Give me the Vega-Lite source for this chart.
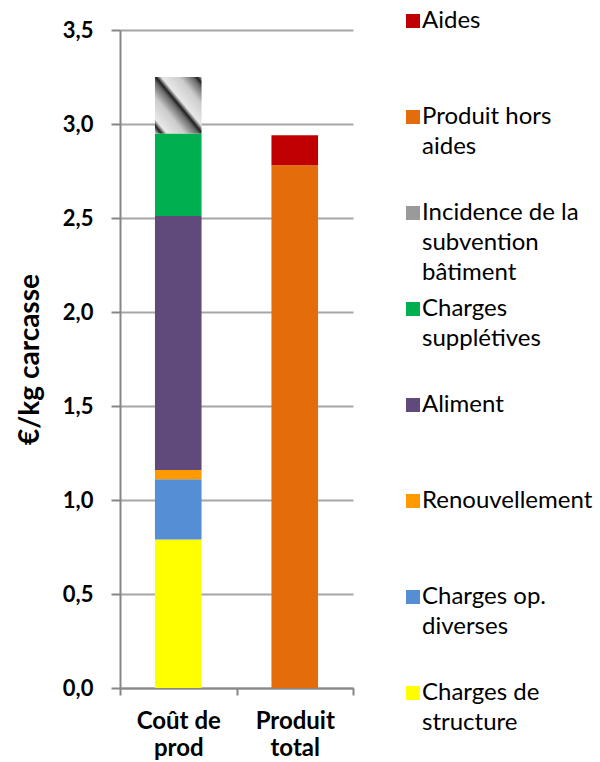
{
  "$schema": "https://vega.github.io/schema/vega-lite/v6.json",
  "autosize": "none",
  "padding": {"left": 120, "top": 30, "right": 247, "bottom": 74},
  "width": 233,
  "height": 658,
  "background": "white",
  "config": {
    "view": {"stroke": null},
    "font": "Lato",
    "style": {"guide-label": {"lineHeight": 30}}
  },
  "data": {
    "values": [
      {"categorie": "Coût de prod", "serie": "Charges de structure", "valeur": 0.79, "ordre": 1},
      {"categorie": "Coût de prod", "serie": "Charges op. diverses", "valeur": 0.32, "ordre": 2},
      {"categorie": "Coût de prod", "serie": "Renouvellement", "valeur": 0.05, "ordre": 3},
      {"categorie": "Coût de prod", "serie": "Aliment", "valeur": 1.35, "ordre": 4},
      {"categorie": "Coût de prod", "serie": "Charges supplétives", "valeur": 0.44, "ordre": 5},
      {"categorie": "Coût de prod", "serie": "Incidence de la subvention bâtiment", "valeur": 0.30, "ordre": 6},
      {"categorie": "Produit total", "serie": "Produit hors aides", "valeur": 2.78, "ordre": 7},
      {"categorie": "Produit total", "serie": "Aides", "valeur": 0.16, "ordre": 8}
    ]
  },
  "mark": {"type": "bar", "strokeWidth": 0, "width": {"band": 0.4}},
  "encoding": {
    "x": {
      "field": "categorie",
      "type": "nominal",
      "sort": ["Coût de prod", "Produit total"],
      "scale": {"paddingInner": 0, "paddingOuter": 0},
      "axis": {
        "title": null,
        "labelAngle": 0,
        "labelExpr": "datum.label == 'Coût de prod' ? ['Coût de', 'prod'] : datum.label == 'Produit total' ? ['Produit', 'total'] : ''",
        "labelFont": "Lato",
        "labelFontSize": 24,
        "labelFontWeight": "bold",
        "labelColor": "#000000",
        "labelLineHeight": 27,
        "labelPadding": 14,
        "labelBaseline": "top",
        "tickBand": "extent",
        "tickSize": 7,
        "tickWidth": 2,
        "tickColor": "#868686",
        "domainColor": "#868686",
        "domainWidth": 2
      }
    },
    "y": {
      "field": "valeur",
      "type": "quantitative",
      "stack": "zero",
      "scale": {"domain": [0, 3.5], "nice": false},
      "axis": {
        "title": "€/kg carcasse",
        "titleFont": "Lato",
        "titleFontSize": 28,
        "titleFontWeight": "bold",
        "titleColor": "#000000",
        "titlePadding": 18,
        "values": [0, 0.5, 1, 1.5, 2, 2.5, 3, 3.5],
        "labelExpr": "replace(format(datum.value, '.1f'), '.', ',')",
        "labelFont": "Lato",
        "labelFontSize": 22,
        "labelFontWeight": "bold",
        "labelColor": "#000000",
        "labelPadding": 18,
        "tickSize": 9,
        "tickWidth": 2,
        "tickColor": "#868686",
        "domainColor": "#868686",
        "domainWidth": 2,
        "grid": true,
        "gridColor": "#a6a6a6",
        "gridWidth": 2
      }
    },
    "color": {
      "condition": {
        "test": "datum.serie == 'Incidence de la subvention bâtiment'",
        "value": {"gradient": "linear", "x1": 0, "y1": 1, "x2": 1, "y2": 0, "stops": [
          {"offset": 0, "color": "#d8d8d8"},
          {"offset": 0.07, "color": "#202020"},
          {"offset": 0.13, "color": "#e8e8e8"},
          {"offset": 0.32, "color": "#cccccc"},
          {"offset": 0.46, "color": "#6a6a6a"},
          {"offset": 0.51, "color": "#202020"},
          {"offset": 0.57, "color": "#e8e8e8"},
          {"offset": 0.76, "color": "#cccccc"},
          {"offset": 0.9, "color": "#6a6a6a"},
          {"offset": 0.95, "color": "#202020"},
          {"offset": 1, "color": "#b0b0b0"}
        ]}
      },
      "field": "serie",
      "type": "nominal",
      "scale": {
        "domain": ["Aides", "Produit hors aides", "Incidence de la subvention bâtiment", "Charges supplétives", "Aliment", "Renouvellement", "Charges op. diverses", "Charges de structure"],
        "range": ["#c00000", "#e46c0a", "#9a9a9a", "#00b050", "#604a7b", "#ff9900", "#558ed5", "#ffff00"]
      },
      "legend": {
        "title": null,
        "orient": "none",
        "legendX": 281,
        "legendY": -21,
        "padding": 0,
        "rowPadding": 12,
        "symbolType": "square",
        "symbolSize": 196,
        "symbolStrokeWidth": 0,
        "labelFont": "Lato",
        "labelFontSize": 24,
        "labelColor": "#000000",
        "labelLimit": 300,
        "labelOffset": -3,
        "labelBaseline": "middle",
        "labelExpr": "{'Aides': ['Aides', ' ', ' '], 'Produit hors aides': ['Produit hors', 'aides', ' '], 'Incidence de la subvention bâtiment': ['Incidence de la', 'subvention', 'bâtiment'], 'Charges supplétives': ['Charges', 'supplétives', ' '], 'Aliment': ['Aliment', ' ', ' '], 'Renouvellement': ['Renouvellement', ' ', ' '], 'Charges op. diverses': ['Charges op.', 'diverses', ' '], 'Charges de structure': ['Charges de', 'structure', ' ']}[datum.label]"
      }
    },
    "order": {"field": "ordre", "type": "quantitative"}
  }
}
